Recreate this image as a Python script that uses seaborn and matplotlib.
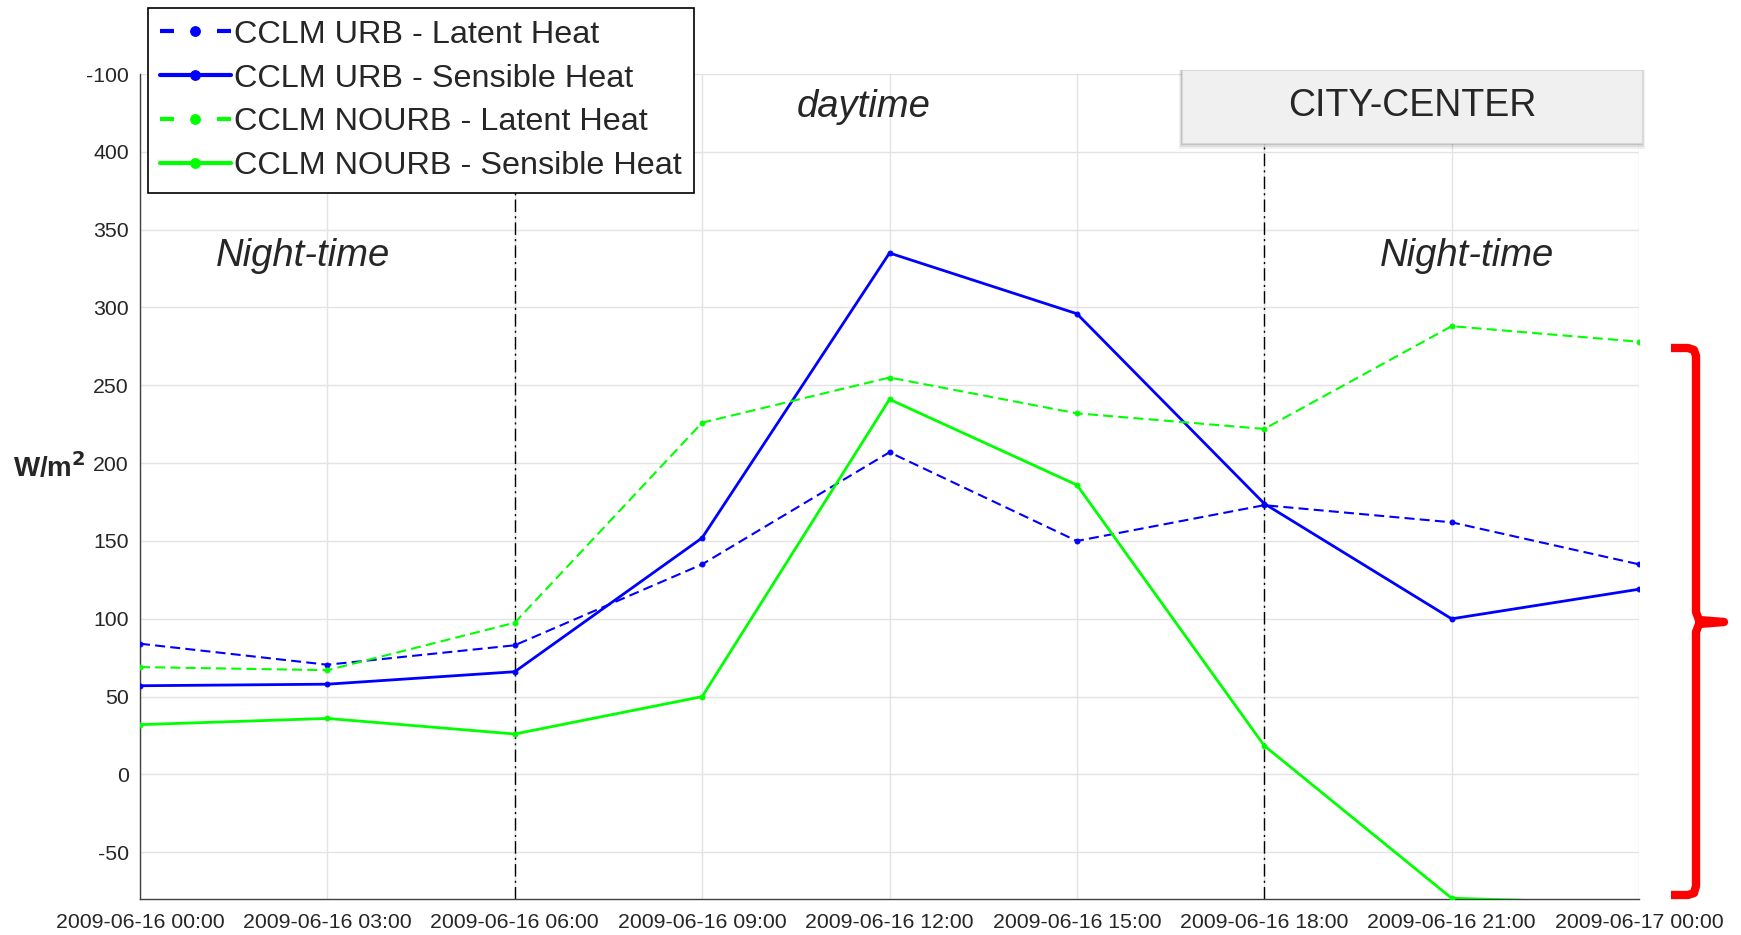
import numpy as np
import pandas as pd
import matplotlib
matplotlib.use("Agg")
import matplotlib.pyplot as plt
import seaborn as sns
from matplotlib.patches import Rectangle
from matplotlib.lines import Line2D

# ---------------- data ----------------
hours = [0, 3, 6, 9, 12, 15, 18, 21, 24]
x_labels = ["2009-06-16 00:00", "2009-06-16 03:00", "2009-06-16 06:00",
            "2009-06-16 09:00", "2009-06-16 12:00", "2009-06-16 15:00",
            "2009-06-16 18:00", "2009-06-16 21:00", "2009-06-17 00:00"]
urb_latent = [84, 70.5, 83, 135, 207, 150, 173, 162, 135]
urb_sensible = [57, 58, 66, 152, 335, 296, 174, 100, 119]
nourb_latent = [69, 67, 97.5, 226, 255, 232, 222, 288, 278]
nourb_sensible = [32, 36, 26, 50, 241, 186, 18.5, -79.5, -83]
y_ticks = [-50, 0, 50, 100, 150, 200, 250, 300, 350, 400, 450]
y_tick_labels = ["-50", "0", "50", "100", "150", "200", "250", "300", "350", "400", "-100"]
series_labels = ["CCLM URB - Latent Heat", "CCLM URB - Sensible Heat",
                 "CCLM NOURB - Latent Heat", "CCLM NOURB - Sensible Heat"]

sns.set_style("white")
plt.rcParams["font.family"] = ["Liberation Sans", "DejaVu Sans"]

W, H = 1741, 935
fig = plt.figure(figsize=(W / 100, H / 100), dpi=100)
ax = fig.add_axes([140 / W, 1 - 899 / H, (1639 - 140) / W, (899 - 74) / H])

blue = (0, 0, 1)
green = (0, 1, 0)
dashed = (0, (4.8, 2.5))
specs = [
    (urb_latent, blue, dashed, 1.5),
    (urb_sensible, blue, "-", 2.0),
    (nourb_latent, green, dashed, 1.5),
    (nourb_sensible, green, "-", 2.0),
]
for (vals, col, ls, lw), lab in zip(specs, series_labels):
    sns.lineplot(x=hours, y=vals, ax=ax, color=col, linestyle=ls, linewidth=lw,
                 marker="o", markersize=3.5, markeredgecolor=col, markerfacecolor=col,
                 label=lab, zorder=3)

for xv in [6, 18]:
    ax.axvline(xv, color="black", linestyle=(0, (9, 3, 1.5, 3)), linewidth=1.0, zorder=2)

ax.set_xlim(0, 24)
ax.set_ylim(-80, 450)
ax.set_xticks(hours)
ax.set_xticklabels(x_labels)
ax.set_yticks(y_ticks)
ax.set_yticklabels(y_tick_labels)
ax.grid(True, color="#e3e3e3", linewidth=1.0)
ax.set_axisbelow(True)
ax.tick_params(axis="both", direction="in", length=6, colors="#404040",
               labelcolor="#262626", labelsize=15.3)
ax.tick_params(axis="x", pad=10)
ax.tick_params(axis="y", pad=8)
for s in ["top", "right"]:
    ax.spines[s].set_visible(False)
for s in ["left", "bottom"]:
    ax.spines[s].set_color("#404040")
    ax.spines[s].set_linewidth(1.0)
ax.set_xlabel("")
ax.set_ylabel("")

# y label
fig.text(13 / W, 1 - 468 / H, "W/m$^\\mathbf{2}$", fontsize=20, fontweight="bold",
         ha="left", va="center")

# annotations
ax.text(2.61, 333, "Night-time", fontsize=27.5, style="italic", ha="center", va="center")
ax.text(11.59, 429, "daytime", fontsize=27.5, style="italic", ha="center", va="center")
ax.text(21.24, 333, "Night-time", fontsize=27.5, style="italic", ha="center", va="center")

# legend
leg = ax.legend(loc="upper left", bbox_to_anchor=(148 / W, 1 - 8 / H),
                bbox_transform=fig.transFigure, fontsize=23.3, frameon=True,
                fancybox=False, edgecolor="black", framealpha=1,
                handlelength=2.19, handletextpad=0.12, labelspacing=0.43,
                borderpad=0.36, borderaxespad=0)
leg.get_frame().set_linewidth(1.2)
leg.set_zorder(10)
for i, ln in enumerate(leg.get_lines()):
    ln.set_linewidth(3)
    ln.set_markersize(7)
    if i in (0, 2):
        ln.set_linestyle((0, (3.36, 4.08, 2.16, 4.08, 3.36, 10)))

# CITY-CENTER box with shadow
bx0, by0, bx1, by1 = 1182, 70, 1642, 143
for off, a in [(6, 0.06), (4, 0.08), (2, 0.12)]:
    fig.patches.append(Rectangle(((bx0 - off / 2) / W, 1 - (by1 + off) / H),
                                 (bx1 - bx0 + off) / W, (by1 - by0 + off) / H,
                                 transform=fig.transFigure, facecolor="black",
                                 alpha=a, edgecolor="none", zorder=20))
fig.patches.append(Rectangle((bx0 / W, 1 - by1 / H), (bx1 - bx0) / W, (by1 - by0) / H,
                             transform=fig.transFigure, facecolor="#f0f0f0",
                             edgecolor="#d8d8d8", linewidth=0.8, zorder=21))
fig.text((bx0 + bx1) / 2 / W, 1 - (by0 + by1) / 2 / H, "CITY-CENTER", fontsize=27,
         ha="center", va="center", zorder=22)

# red brace
bxs = [1671, 1688, 1694, 1696, 1696, 1699, 1724, 1699, 1696, 1696, 1694, 1688, 1671]
bys = [348, 348, 350, 356, 612, 620, 622, 624, 632, 886, 893, 895, 895]
fig.lines.append(Line2D([x / W for x in bxs], [1 - y / H for y in bys],
                        transform=fig.transFigure, color="#ff0000", linewidth=6,
                        solid_joinstyle="round", solid_capstyle="butt", zorder=30))

fig.savefig("out.png", dpi=100)
